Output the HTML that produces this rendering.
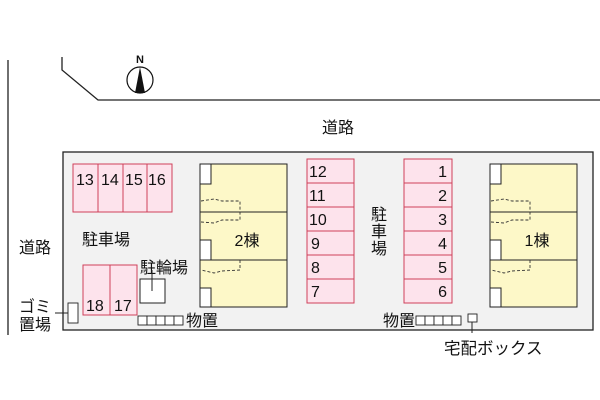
<!DOCTYPE html>
<html><head><meta charset="utf-8"><style>
body{margin:0;background:#fff}
svg{display:block}
text{font-family:"Liberation Sans","Noto Sans CJK JP",sans-serif;fill:#111}
</style></head><body>
<svg width="600" height="400" viewBox="0 0 600 400">
<line x1="8" y1="60" x2="8" y2="335" stroke="#222" stroke-width="1.3"/>
<polyline points="62,57 62,70 98,100 600,100" fill="none" stroke="#222" stroke-width="1.3"/>
<circle cx="140" cy="80" r="13" fill="#fff" stroke="#111" stroke-width="1.2"/>
<polygon points="140,67 135,93 145,93" fill="#111"/>
<text x="140" y="63" font-size="11" font-weight="bold" text-anchor="middle">N</text>
<text x="338" y="133" font-size="16" text-anchor="middle">道路</text>
<text x="19" y="253" font-size="16">道路</text>
<rect x="63" y="152" width="530" height="178" fill="#f2f2f2" stroke="#222" stroke-width="1.3"/>
<g fill="#fde3ec" stroke="#d0405a" stroke-width="1">
<rect x="73" y="164" width="25" height="48"/><rect x="98" y="164" width="25" height="48"/>
<rect x="123" y="164" width="24" height="48"/><rect x="147" y="164" width="25" height="48"/>
<rect x="83" y="265" width="27" height="50"/><rect x="110" y="265" width="27" height="50"/>
</g>
<g font-size="16"><text x="76" y="185">13</text><text x="101" y="185">14</text><text x="125" y="185">15</text><text x="148" y="185">16</text>
<text x="86" y="311">18</text><text x="114" y="311">17</text></g>
<text x="82" y="245" font-size="16">駐車場</text>
<text x="140" y="273" font-size="16">駐輪場</text>
<rect x="140" y="279" width="25" height="24" fill="#fff" stroke="#222"/>
<line x1="152" y1="270" x2="152" y2="291" stroke="#222"/>
<g fill="#fff" stroke="#222" stroke-width="0.9">
<rect x="138" y="316" width="9" height="9"/><rect x="147" y="316" width="9" height="9"/><rect x="156" y="316" width="9" height="9"/><rect x="165" y="316" width="9" height="9"/><rect x="174" y="316" width="9" height="9"/>
<rect x="416" y="316" width="9" height="9"/><rect x="425" y="316" width="9" height="9"/><rect x="434" y="316" width="9" height="9"/><rect x="443" y="316" width="9" height="9"/><rect x="452" y="316" width="9" height="9"/>
<rect x="468" y="314" width="9" height="8"/>
<rect x="68" y="303" width="10" height="20"/>
</g>
<line x1="55" y1="313" x2="68" y2="313" stroke="#222"/>
<line x1="472" y1="322" x2="472" y2="333" stroke="#222"/>
<text x="186" y="326" font-size="16">物置</text>
<text x="383" y="326" font-size="16">物置</text>
<text x="19" y="312" font-size="16">ゴミ</text>
<text x="19" y="330" font-size="16">置場</text>
<text x="444" y="354" font-size="16.5">宅配ボックス</text>
<g id="b">
<rect x="200" y="164" width="87" height="143" fill="#fdf8c8" stroke="#222"/>
<line x1="200" y1="212" x2="287" y2="212" stroke="#222"/>
<line x1="200" y1="260" x2="287" y2="260" stroke="#222"/>
<g fill="#fff" stroke="#222"><rect x="200" y="164" width="11" height="20"/><rect x="200" y="240" width="11" height="20"/><rect x="200" y="288" width="11" height="19"/></g>
<g fill="none" stroke="#333" stroke-dasharray="3,2" stroke-width="0.9">
<polyline points="201,201 214,199 222,201 240,201 240,220"/>
<polyline points="201,222 214,223 222,220 240,220"/>
<polyline points="240,260 240,270 222,271 214,273 201,270"/>
</g>
</g>
<use href="#b" x="290"/>
<text x="247" y="246" font-size="16" text-anchor="middle">2棟</text>
<text x="537" y="246" font-size="16" text-anchor="middle">1棟</text>
<g fill="#fde3ec" stroke="#d0405a">
<rect x="307" y="159" width="47" height="24"/><rect x="307" y="183" width="47" height="24"/><rect x="307" y="207" width="47" height="24"/><rect x="307" y="231" width="47" height="24"/><rect x="307" y="255" width="47" height="24"/><rect x="307" y="279" width="47" height="24"/>
<rect x="404" y="159" width="48" height="24"/><rect x="404" y="183" width="48" height="24"/><rect x="404" y="207" width="48" height="24"/><rect x="404" y="231" width="48" height="24"/><rect x="404" y="255" width="48" height="24"/><rect x="404" y="279" width="48" height="24"/>
</g>
<g font-size="16"><text x="309" y="177">12</text><text x="309" y="201">11</text><text x="309" y="225">10</text><text x="311" y="249">9</text><text x="311" y="273">8</text><text x="311" y="297">7</text></g>
<g font-size="16" text-anchor="end"><text x="447" y="177">1</text><text x="447" y="201">2</text><text x="447" y="225">3</text><text x="447" y="249">4</text><text x="447" y="273">5</text><text x="447" y="297">6</text></g>
<g font-size="16" text-anchor="middle"><text x="379" y="220">駐</text><text x="379" y="237">車</text><text x="379" y="254">場</text></g>
</svg>
</body></html>
